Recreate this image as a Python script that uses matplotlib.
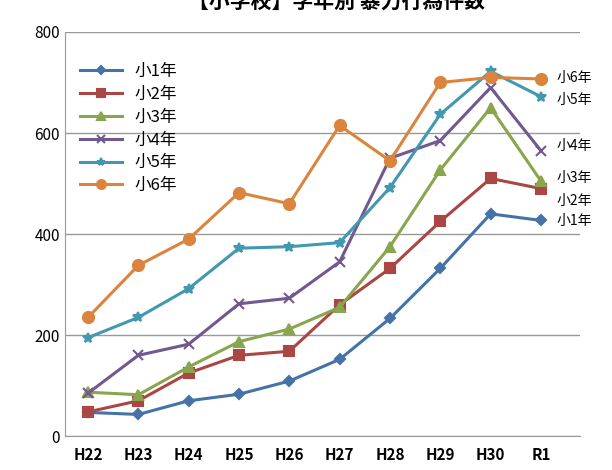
import matplotlib
matplotlib.use("Agg")
import matplotlib.pyplot as plt

plt.rcParams['font.family'] = ['Noto Sans CJK JP', 'DejaVu Sans']

years = ["H22", "H23", "H24", "H25", "H26", "H27", "H28", "H29", "H30", "R1"]
g1 = [47, 43, 70, 83, 109, 152, 233, 332, 440, 427]
g2 = [48, 70, 125, 160, 168, 260, 332, 425, 510, 490]
g3 = [87, 82, 137, 187, 212, 255, 375, 527, 650, 505]
g4 = [85, 160, 182, 262, 273, 345, 550, 585, 690, 565]
g5 = [195, 235, 292, 372, 375, 383, 492, 637, 722, 672]
g6 = [235, 338, 390, 482, 460, 615, 545, 700, 710, 707]
names = ["小1年", "小2年", "小3年", "小4年", "小5年", "小6年"]
label_y = [425, 465, 510, 575, 665, 708]

series = [g1, g2, g3, g4, g5, g6]
colors = ["#4572A7", "#AA4643", "#89A54E", "#71588F", "#4198AF", "#DB843D"]
markers = ["D", "s", "^", "x", "*", "o"]
msizes = [5, 7, 7, 7, 7, 8]

fig = plt.figure(figsize=(6.12, 4.7), dpi=100)
ax = fig.add_axes([0.106, 0.072, 0.842, 0.86])
x = list(range(len(years)))
for s, c, m, ms, n in zip(series, colors, markers, msizes, names):
    ax.plot(x, s, color=c, marker=m, markersize=ms, lw=2.2, label=n,
            markeredgewidth=1.5)
for n, ly in zip(names, label_y):
    ax.text(9.3, ly, n, fontsize=10, va="center", ha="left")

ax.set_xlim(-0.46, 9.78)
ax.set_ylim(0, 800)
ax.set_yticks([0, 200, 400, 600, 800])
ax.set_xticks(x)
ax.set_xticklabels(years, fontsize=11, fontweight="bold")
ax.tick_params(axis="y", labelsize=11, length=0)
ax.tick_params(axis="x", length=0, pad=8)
ax.yaxis.grid(True, color="#999999", lw=1)
ax.set_axisbelow(True)
for sp in ["top", "right"]:
    ax.spines[sp].set_visible(False)
ax.spines["left"].set_color("#999999")
ax.spines["bottom"].set_color("#999999")
ax.legend(loc="upper left", bbox_to_anchor=(0.0, 0.96), frameon=False,
          fontsize=12, handlelength=2.5, labelspacing=0.35, markerscale=0.8)
fig.text(0.55, 0.995, "【小学校】学年別 暴力行為件数", ha="center", va="center",
         fontsize=15, fontweight="bold")
fig.savefig("out.png", dpi=100)
